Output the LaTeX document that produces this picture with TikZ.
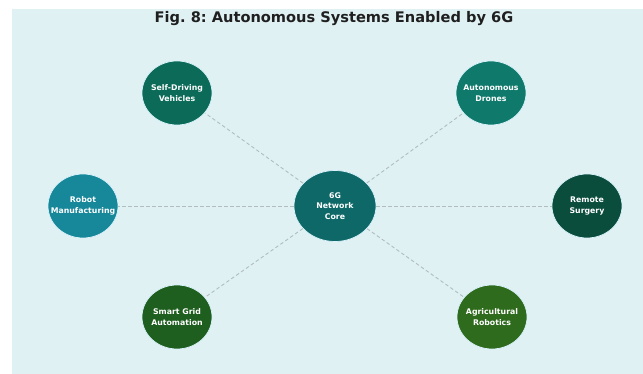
\documentclass[tikz,border=0pt]{standalone}
\usepackage{fontspec}
\setmainfont{DejaVu Sans}
\usetikzlibrary{shapes.geometric}
\frenchspacing
\definecolor{bgblue}{HTML}{E0F1F4}
\definecolor{linkgray}{HTML}{B0BEC0}
\definecolor{corecol}{HTML}{0E6868}
\definecolor{sdvcol}{HTML}{0B6B58}
\definecolor{dronecol}{HTML}{0F7A6B}
\definecolor{robotcol}{HTML}{17879A}
\definecolor{surgcol}{HTML}{0B4D3D}
\definecolor{gridcol}{HTML}{1E5E1E}
\definecolor{agricol}{HTML}{2F6B1D}
\begin{document}
\begin{tikzpicture}
                [x=1pt, y=-1pt,
                outer/.style={ellipse, draw=white!85!cyan, line width=0.7pt, inner sep=0pt, minimum width=70pt, minimum height=64pt},
                corenode/.style={outer, fill=corecol, minimum width=82pt, minimum height=71pt},
                lbl/.style={text=white, font=\fontsize{7.8}{10.5}\selectfont\bfseries, align=center, inner sep=0pt},
                link/.style={draw=linkgray, line width=0.9pt, dash pattern=on 3.5pt off 2.5pt},]

                \useasboundingbox (0,0) rectangle (643,374);
                \fill[bgblue] (12,9) rectangle (643,374);

                \node[font=\fontsize{14.6}{17}\selectfont\bfseries, text=black!88] (title) at (334,19) {Fig. 8: Autonomous Systems Enabled by 6G};

                \node[corenode, label={[lbl]center:6G\\Network\\Core}] (core) at (335,206) {};
                \node[outer, fill=sdvcol, label={[lbl]center:Self-Driving\\Vehicles}] (sdv) at (177,93) {};
                \node[outer, fill=dronecol, label={[lbl]center:Autonomous\\Drones}] (drones) at (491,93) {};
                \node[outer, fill=robotcol, label={[lbl]center:Robot\\Manufacturing}] (robot) at (83,206) {};
                \node[outer, fill=surgcol, label={[lbl]center:Remote\\Surgery}] (surgery) at (587,206) {};
                \node[outer, fill=gridcol, label={[lbl]center:Smart Grid\\Automation}] (grid) at (177,317) {};
                \node[outer, fill=agricol, label={[lbl]center:Agricultural\\Robotics}] (agri) at (492,317) {};

                \draw[link] (core) -- (sdv);
                \draw[link] (core) -- (drones);
                \draw[link] (core) -- (robot);
                \draw[link] (core) -- (surgery);
                \draw[link] (core) -- (grid);
                \draw[link] (core) -- (agri);

            \end{tikzpicture}
\end{document}
